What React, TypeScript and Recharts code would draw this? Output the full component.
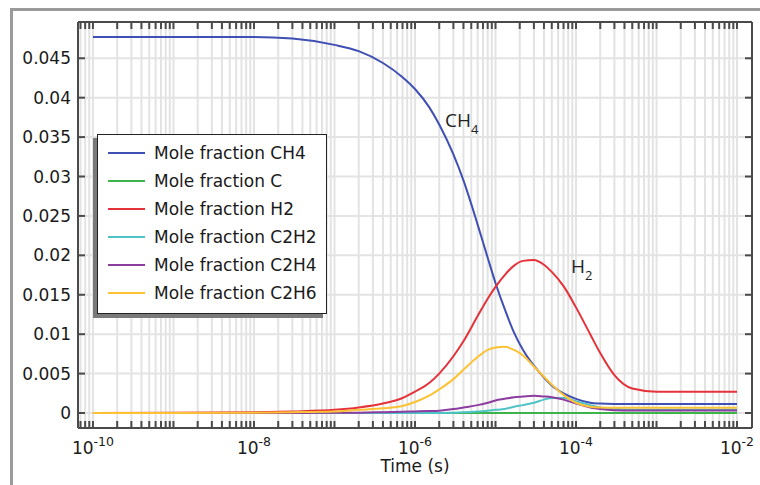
import React from "react";
import { LineChart, Line, XAxis, YAxis, CartesianGrid, Legend } from "recharts";

// time points (s)
const times = [
  1e-10, 1e-9, 1e-8, 3e-8, 1e-7, 2e-7, 4e-7, 7e-7, 1e-6, 1.5e-6, 2e-6, 3e-6, 4e-6, 6e-6, 8e-6,
  1e-5, 1.3e-5, 1.7e-5, 2.2e-5, 3e-5, 4e-5, 5e-5, 7e-5, 1e-4, 1.5e-4, 2e-4, 3e-4, 5e-4, 1e-3, 1e-2,
];

// mole fractions
const ch4 = [
  0.0477, 0.0477, 0.0477, 0.0475, 0.0467, 0.0459, 0.0444, 0.0426, 0.0411, 0.0388, 0.0366, 0.0328, 0.0295, 0.0239, 0.0197,
  0.0165, 0.0132, 0.0102, 0.008, 0.006, 0.0045, 0.0035, 0.0025, 0.0018, 0.0013, 0.0012, 0.00115, 0.00114, 0.00114, 0.00114,
];
const c = [
  0, 0, 0, 0, 0, 0, 0, 0, 0, 0, 0, 0, 0, 0, 0,
  0, 0, 0, 0, 0, 0, 0, 0, 0, 0, 0, 0, 0, 0, 0,
];
const h2 = [
  0, 0.00002, 0.0001, 0.0002, 0.0004, 0.0007, 0.0012, 0.0019, 0.0027, 0.0038, 0.005, 0.0072, 0.0091, 0.0123, 0.0145,
  0.016, 0.0175, 0.0187, 0.0193, 0.0194, 0.0188, 0.0179, 0.0161, 0.0134, 0.01, 0.0076, 0.0048, 0.0031, 0.0027, 0.0027,
];
const c2h2 = [
  0, 0, 0, 0, 0, 0, 0, 0, 0, 0, 0, 0.00005, 0.0001, 0.0002, 0.0003,
  0.0004, 0.0005, 0.0008, 0.001, 0.0013, 0.0017, 0.0019, 0.0019, 0.0015, 0.001, 0.0007, 0.0005, 0.0004, 0.0004, 0.0004,
];
const c2h4 = [
  0, 0, 0, 0, 0.00002, 0.00005, 0.0001, 0.00015, 0.0002, 0.00025, 0.0003, 0.0005, 0.0007, 0.001, 0.0013,
  0.0016, 0.0018, 0.002, 0.0021, 0.0022, 0.0021, 0.002, 0.0017, 0.0012, 0.0007, 0.0005, 0.00036, 0.00033, 0.00033, 0.00033,
];
const c2h6 = [
  0, 0.00001, 0.00005, 0.0001, 0.0002, 0.0004, 0.0006, 0.0009, 0.0014, 0.0022, 0.003, 0.0043, 0.0055, 0.0071, 0.008,
  0.0083, 0.0084, 0.008, 0.0073, 0.0059, 0.0046, 0.0036, 0.0023, 0.0013, 0.0008, 0.0007, 0.00067, 0.00067, 0.00067, 0.00067,
];

const series = [
  { key: "ch4", name: "Mole fraction CH4", color: "#3f4fb3", values: ch4 },
  { key: "c", name: "Mole fraction C", color: "#3cb44b", values: c },
  { key: "h2", name: "Mole fraction H2", color: "#e5323a", values: h2 },
  { key: "c2h2", name: "Mole fraction C2H2", color: "#4fc4c6", values: c2h2 },
  { key: "c2h4", name: "Mole fraction C2H4", color: "#8c3d9f", values: c2h4 },
  { key: "c2h6", name: "Mole fraction C2H6", color: "#fdc234", values: c2h6 },
];

// axis ticks
const decades = [-11, -10, -9, -8, -7, -6, -5, -4, -3, -2];
const mantissas = [1, 2, 3, 4, 5, 6, 7, 8, 9];
const labeledDecades = [-10, -8, -6, -4, -2];
const yTicks = [0, 0.005, 0.01, 0.015, 0.02, 0.025, 0.03, 0.035, 0.04, 0.045];
const yLabels = ["0", "0.005", "0.01", "0.015", "0.02", "0.025", "0.03", "0.035", "0.04", "0.045"];

const xDomain = [6.52e-11, 0.01535];
const yDomain = [-0.0019, 0.0496];

const xTicks: number[] = [];
decades.forEach((d) =>
  mantissas.forEach((m) => {
    const v = m * Math.pow(10, d);
    if (v >= xDomain[0] && v <= xDomain[1]) xTicks.push(v);
  })
);

const data = times.map((t, i) => {
  const row: any = { t };
  series.forEach((s) => (row[s.key] = s.values[i]));
  return row;
});

const AXIS = "#4a4a4a";
const TXT = "#1a1a1a";
const FONT = "'DejaVu Sans', sans-serif";
const TICK = 7;

const BottomTick = (props: any) => {
  const { x, y, payload } = props;
  const v = payload.value;
  const e = Math.floor(Math.log10(v) + 1e-6);
  const major = Math.abs(v / Math.pow(10, e) - 1) < 1e-6;
  const axisY = y - 6;
  return (
    <g>
      <line x1={x} x2={x} y1={axisY} y2={axisY - TICK} stroke={AXIS} strokeWidth={2} />
      {major && labeledDecades.includes(e) && (
        <text x={x} y={axisY + 26} textAnchor="middle" fontFamily={FONT} fontSize={17} fill={TXT}>
          10
          <tspan dy={-8} fontSize={12.5}>
            {e}
          </tspan>
        </text>
      )}
    </g>
  );
};

const TopTick = (props: any) => {
  const { x, y } = props;
  return <line x1={x} x2={x} y1={y} y2={y + TICK} stroke={AXIS} strokeWidth={2} />;
};

const LeftTick = (props: any) => {
  const { x, y, payload } = props;
  const axisX = x + 7;
  const idx = yTicks.indexOf(payload.value);
  return (
    <g>
      <line x1={axisX} x2={axisX + TICK} y1={y} y2={y} stroke={AXIS} strokeWidth={2} />
      <text x={x} y={y} dy="0.36em" textAnchor="end" fontFamily={FONT} fontSize={17} fill={TXT}>
        {idx >= 0 ? yLabels[idx] : payload.value}
      </text>
    </g>
  );
};

const RightTick = (props: any) => {
  const { x, y } = props;
  return <line x1={x} x2={x - TICK} y1={y} y2={y} stroke={AXIS} strokeWidth={2} />;
};

// legend keeps the series order (recharts would sort it by name)
const LegendBox = () => (
  <div
    style={{
      boxSizing: "border-box",
      width: 230,
      border: "1.5px solid #222",
      background: "#fff",
      boxShadow: "-4px 4px 0 #7a7a7a",
      padding: "4px 0 6px 0",
      fontFamily: FONT,
      fontSize: 17,
      color: TXT,
    }}
  >
    {series.map((s) => (
      <div key={s.key} style={{ display: "flex", alignItems: "center", height: 28 }}>
        <span style={{ display: "inline-block", width: 37, height: 2, background: s.color, marginLeft: 10, marginRight: 9 }} />
        <span>{s.name}</span>
      </div>
    ))}
  </div>
);

export default function App() {
  return (
    <div style={{ position: "absolute", left: 0, top: 0, width: 760, height: 485, background: "#fff", overflow: "hidden" }}>
      <div style={{ position: "absolute", left: 10, top: 8, width: 750, height: 3, background: "#9a9a9a" }} />
      <div style={{ position: "absolute", left: 10, top: 8, width: 3, height: 477, background: "#9a9a9a" }} />
      <div style={{ position: "absolute", left: 0, top: 0 }}>
        <LineChart width={760} height={485} data={data} margin={{ top: 21, right: 7, bottom: 7, left: 10 }}>
          <CartesianGrid stroke="#e3e3e3" strokeWidth={2} />
          <XAxis
            dataKey="t"
            type="number"
            scale="log"
            domain={xDomain}
            allowDataOverflow
            ticks={xTicks}
            interval={0}
            height={50}
            tickSize={0}
            tickMargin={6}
            tickLine={false}
            tick={<BottomTick />}
            axisLine={{ stroke: AXIS, strokeWidth: 2 }}
            label={{ value: "Time (s)", position: "insideBottom", offset: 6, fill: TXT, fontSize: 17, fontFamily: FONT }}
          />
          <XAxis
            xAxisId="top"
            orientation="top"
            dataKey="t"
            type="number"
            scale="log"
            domain={xDomain}
            allowDataOverflow
            ticks={xTicks}
            interval={0}
            height={1}
            tickSize={0}
            tickMargin={0}
            tickLine={false}
            tick={<TopTick />}
            axisLine={{ stroke: AXIS, strokeWidth: 2 }}
          />
          <YAxis
            type="number"
            domain={yDomain}
            allowDataOverflow
            ticks={yTicks}
            interval={0}
            width={68}
            tickSize={0}
            tickMargin={7}
            tickLine={false}
            tick={<LeftTick />}
            axisLine={{ stroke: AXIS, strokeWidth: 2 }}
          />
          <YAxis
            yAxisId="right"
            orientation="right"
            type="number"
            domain={yDomain}
            allowDataOverflow
            ticks={yTicks}
            interval={0}
            width={1}
            tickSize={0}
            tickMargin={0}
            tickLine={false}
            tick={<RightTick />}
            axisLine={{ stroke: AXIS, strokeWidth: 2 }}
          />
          <Legend
            layout="horizontal"
            verticalAlign="middle"
            align="center"
            width={230}
            wrapperStyle={{ left: 97, top: 134 }}
            content={<LegendBox />}
          />
          {series.map((s) => (
            <Line
              key={s.key}
              dataKey={s.key}
              name={s.name}
              type="monotone"
              stroke={s.color}
              strokeWidth={2}
              dot={false}
              isAnimationActive={false}
            />
          ))}
        </LineChart>
      </div>
      <svg width={760} height={485} style={{ position: "absolute", left: 0, top: 0, pointerEvents: "none" }}>
        <text x={445} y={127} fontFamily="'Open Sans', sans-serif" fontSize={19} fill="#222">
          CH
          <tspan dy={7} fontSize={13}>
            4
          </tspan>
        </text>
        <text x={571} y={273} fontFamily="'Open Sans', sans-serif" fontSize={19} fill="#222">
          H
          <tspan dy={7} fontSize={13}>
            2
          </tspan>
        </text>
      </svg>
    </div>
  );
}
